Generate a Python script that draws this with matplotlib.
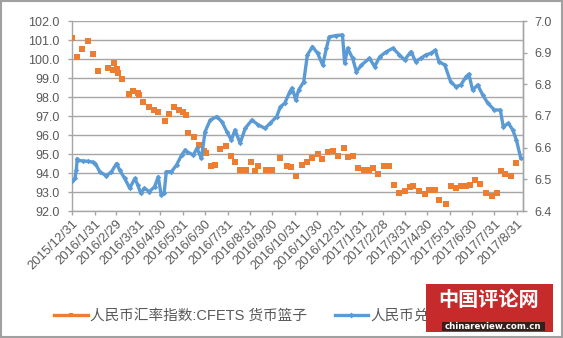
import matplotlib
matplotlib.use('Agg')
import matplotlib.pyplot as plt
import pandas as pd
from matplotlib.patches import Rectangle
from matplotlib.lines import Line2D

plt.rcParams['font.family'] = ['Liberation Sans', 'Noto Sans CJK SC', 'DejaVu Sans']

# ---------------- data ----------------
cfets_dates = [
    "2015-12-31", "2016-01-07", "2016-01-14", "2016-01-22", "2016-01-29", "2016-02-04",
    "2016-02-18", "2016-02-25", "2016-02-27", "2016-03-01", "2016-03-03", "2016-03-09",
    "2016-03-18", "2016-03-24", "2016-03-30", "2016-04-01", "2016-04-06", "2016-04-14",
    "2016-04-21", "2016-04-27", "2016-05-06", "2016-05-12", "2016-05-19", "2016-05-25",
    "2016-05-31", "2016-06-04", "2016-06-07", "2016-06-15", "2016-06-22", "2016-06-29",
    "2016-07-02", "2016-07-08", "2016-07-14", "2016-07-20", "2016-07-28", "2016-08-04",
    "2016-08-10", "2016-08-17", "2016-08-25", "2016-09-01", "2016-09-07", "2016-09-11",
    "2016-09-22", "2016-09-29", "2016-10-10", "2016-10-20", "2016-10-26", "2016-11-02",
    "2016-11-09", "2016-11-17", "2016-11-24", "2016-12-01", "2016-12-07", "2016-12-15",
    "2016-12-22", "2016-12-29", "2017-01-06", "2017-01-12", "2017-01-19", "2017-01-25",
    "2017-02-02", "2017-02-09", "2017-02-15", "2017-02-22", "2017-03-02", "2017-03-09",
    "2017-03-16", "2017-03-22", "2017-03-30", "2017-04-07", "2017-04-11", "2017-04-19",
    "2017-04-27", "2017-05-03", "2017-05-10", "2017-05-16", "2017-05-26", "2017-06-01",
    "2017-06-08", "2017-06-15", "2017-06-22", "2017-06-28", "2017-07-05", "2017-07-11",
    "2017-07-20", "2017-07-27", "2017-08-03", "2017-08-09", "2017-08-15", "2017-08-23",
    "2017-08-30",
]
cfets_values = [
    101.12, 100.12, 100.53, 100.95, 100.28, 99.37,
    99.54, 99.40, 99.77, 99.50, 99.26, 98.96,
    98.16, 98.32, 98.23, 98.10, 97.72, 97.47,
    97.30, 97.23, 96.74, 97.09, 97.49, 97.32,
    97.21, 97.07, 96.10, 95.90, 95.47, 95.16,
    95.05, 94.35, 94.42, 95.26, 95.40, 94.88,
    94.60, 94.18, 94.14, 94.60, 94.10, 94.35,
    94.18, 94.18, 94.77, 94.38, 94.32, 93.86,
    94.42, 94.60, 94.77, 95.02, 94.74, 95.12,
    95.16, 94.91, 95.33, 94.84, 94.91, 94.25,
    94.14, 94.14, 94.25, 93.93, 94.35, 94.35,
    93.37, 92.95, 93.05, 93.26, 93.30, 93.05,
    92.88, 93.12, 93.12, 92.56, 92.38, 93.30,
    93.19, 93.30, 93.30, 93.37, 93.62, 93.44,
    92.95, 92.77, 92.95, 94.10, 93.93, 93.86,
    94.53,
]

usd_dates = [
    "2015-12-31", "2016-01-04", "2016-01-06", "2016-01-07", "2016-01-08", "2016-01-15",
    "2016-01-22", "2016-01-29", "2016-02-01", "2016-02-07", "2016-02-16", "2016-02-23",
    "2016-03-01", "2016-03-05", "2016-03-12", "2016-03-19", "2016-03-26", "2016-03-30",
    "2016-04-03", "2016-04-08", "2016-04-15", "2016-04-22", "2016-04-27", "2016-05-01",
    "2016-05-05", "2016-05-08", "2016-05-15", "2016-05-22", "2016-05-29", "2016-06-03",
    "2016-06-05", "2016-06-14", "2016-06-19", "2016-06-25", "2016-06-30", "2016-07-07",
    "2016-07-16", "2016-07-23", "2016-07-30", "2016-08-05", "2016-08-10", "2016-08-17",
    "2016-08-24", "2016-09-02", "2016-09-11", "2016-09-20", "2016-09-27", "2016-10-06",
    "2016-10-11", "2016-10-17", "2016-10-24", "2016-10-27", "2016-10-31", "2016-11-01",
    "2016-11-05", "2016-11-12", "2016-11-17", "2016-11-24", "2016-12-01", "2016-12-08",
    "2016-12-13", "2016-12-17", "2016-12-26", "2017-01-04", "2017-01-07", "2017-01-11",
    "2017-01-18", "2017-01-23", "2017-01-30", "2017-02-10", "2017-02-17", "2017-02-24",
    "2017-03-05", "2017-03-14", "2017-03-23", "2017-03-30", "2017-04-06", "2017-04-08",
    "2017-04-14", "2017-04-21", "2017-04-28", "2017-05-05", "2017-05-11", "2017-05-16",
    "2017-05-24", "2017-06-01", "2017-06-08", "2017-06-15", "2017-06-22", "2017-06-26",
    "2017-07-01", "2017-07-08", "2017-07-15", "2017-07-22", "2017-07-31", "2017-08-08",
    "2017-08-12", "2017-08-19", "2017-08-25", "2017-08-30", "2017-09-05",
]
usd_values = [
    6.494, 6.503, 6.530, 6.565, 6.560, 6.558,
    6.557, 6.554, 6.550, 6.524, 6.511, 6.524,
    6.550, 6.530, 6.503, 6.472, 6.503, 6.482,
    6.456, 6.472, 6.461, 6.477, 6.508, 6.450,
    6.456, 6.524, 6.524, 6.545, 6.577, 6.593,
    6.587, 6.577, 6.598, 6.566, 6.650, 6.687,
    6.698, 6.682, 6.650, 6.624, 6.656, 6.614,
    6.661, 6.687, 6.672, 6.661, 6.677, 6.698,
    6.729, 6.740, 6.777, 6.788, 6.761, 6.750,
    6.782, 6.808, 6.893, 6.919, 6.898, 6.861,
    6.914, 6.950, 6.954, 6.956, 6.866, 6.914,
    6.882, 6.840, 6.861, 6.882, 6.856, 6.887,
    6.903, 6.914, 6.893, 6.877, 6.898, 6.903,
    6.872, 6.882, 6.893, 6.898, 6.908, 6.872,
    6.861, 6.808, 6.793, 6.798, 6.824, 6.832,
    6.782, 6.798, 6.766, 6.740, 6.719, 6.719,
    6.666, 6.677, 6.656, 6.624, 6.566,
]

tick_labels = [
    "2015/12/31", "2016/1/31", "2016/2/29", "2016/3/31", "2016/4/30", "2016/5/31",
    "2016/6/30", "2016/7/31", "2016/8/31", "2016/9/30", "2016/10/31", "2016/11/30",
    "2016/12/31", "2017/1/31", "2017/2/28", "2017/3/31", "2017/4/30", "2017/5/31",
    "2017/6/30", "2017/7/31", "2017/8/31",
]
series_names = ["人民币汇率指数:CFETS 货币篮子", "人民币兑美元中间价"]

# ---------------- figure ----------------
ORANGE = "#ED7D31"
BLUE = "#5B9BD5"
TXT = "#595959"
GRID = "#A6A6A6"

fig = plt.figure(figsize=(5.63, 3.38), dpi=100)
ax = fig.add_axes([72 / 563, 1 - 211 / 338, (523 - 72) / 563, (211 - 21) / 338])
ax2 = ax.twinx()

cd = pd.to_datetime(cfets_dates)
ud = pd.to_datetime(usd_dates)
td = pd.to_datetime(tick_labels, format="%Y/%m/%d")

ax.plot(cd, cfets_values, linestyle="none", marker="s", markersize=3.7,
        color=ORANGE, markeredgewidth=0, zorder=3)
ax2.plot(ud, usd_values, color=BLUE, linewidth=2.4, marker="D",
         markersize=2.8, markeredgewidth=0, zorder=3)

ax.set_ylim(92, 102)
ax.set_yticks([92 + i for i in range(11)])
ax.set_yticklabels([f"{92 + i:.1f}" for i in range(11)])
ax2.set_ylim(6.4, 7.0)
ax2.set_yticks([6.4 + 0.1 * i for i in range(7)])
ax2.set_yticklabels([f"{6.4 + 0.1 * i:.1f}" for i in range(7)])

ax.set_xlim(pd.Timestamp("2015-12-31"), pd.Timestamp("2017-09-08"))
ax.set_xticks(td)
ax.set_xticklabels(tick_labels, rotation=45, ha="right", rotation_mode="anchor")

ax.grid(axis="y", color=GRID, linewidth=1.0)
ax.set_axisbelow(True)

for a in (ax, ax2):
    a.spines["top"].set_visible(False)
    for s in ("left", "right", "bottom"):
        a.spines[s].set_color(GRID)
        a.spines[s].set_linewidth(1.0)
    a.tick_params(colors=TXT, labelsize=9, direction="out", length=3, width=1)
ax.tick_params(axis="x", labelsize=9.3, pad=2, color=GRID)
ax.tick_params(axis="y", color=GRID, pad=6)
ax2.tick_params(axis="y", color=GRID, pad=5)
ax2.spines["left"].set_visible(False)
ax2.spines["bottom"].set_visible(False)

# legend (line-with-marker handles as in the original)
h1 = Line2D([], [], color=ORANGE, linewidth=2.4, marker="s", markersize=3.5,
            markeredgewidth=0)
h2 = Line2D([], [], color=BLUE, linewidth=2.4, marker="D", markersize=3.0,
            markeredgewidth=0)
leg = fig.legend([h1, h2], series_names, loc="center", ncol=2,
                 bbox_to_anchor=(0.494, 1 - 316 / 338), frameon=False,
                 fontsize=10.5, handlelength=2.3, columnspacing=1.9,
                 handletextpad=0.15, labelcolor=TXT, numpoints=1)

# outer border
fig.patches.append(Rectangle((0.002, 0.003), 0.996, 0.994, transform=fig.transFigure,
                             fill=False, edgecolor="#A0A0A0", linewidth=1.5, zorder=20))

# watermark logo
fig.patches.append(Rectangle((426 / 563, 1 - 332 / 338), (553 - 426) / 563, (332 - 284) / 338,
                             transform=fig.transFigure, facecolor="#C62A2A",
                             edgecolor="none", zorder=10))
fig.patches.append(Rectangle((442 / 563, 1 - 331 / 338), (545 - 442) / 563, (331 - 322) / 338,
                             transform=fig.transFigure, facecolor="#3A1E1E",
                             edgecolor="none", zorder=11))
fig.text(489 / 563, 1 - 299 / 338, "中国评论网", color="white", fontsize=14.5,
         fontweight="bold", family=["Noto Sans CJK SC"], ha="center", va="center", zorder=12)
fig.text(493 / 563, 1 - 326.5 / 338, "chinareview.com.cn", color="white", fontsize=6.2,
         fontweight="bold", family=["DejaVu Sans"], ha="center", va="center", zorder=12)

fig.savefig("out.png", dpi=100, facecolor="white")
